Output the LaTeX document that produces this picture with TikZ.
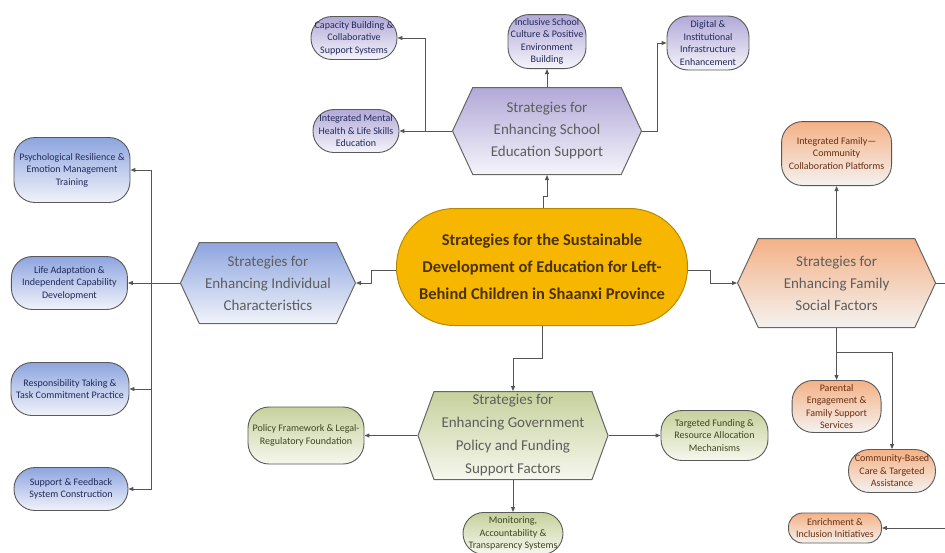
\documentclass[tikz,border=0pt]{standalone}
\usepackage{fontspec}
\setmainfont{Carlito}
\usepackage{tikz}
\usetikzlibrary{shapes.symbols, shapes.misc, arrows.meta, positioning}

\definecolor{schooltop}{HTML}{B2A9D8}
\definecolor{schoolbot}{HTML}{F5F4FA}
\definecolor{indtop}{HTML}{8DA5DF}
\definecolor{indbot}{HTML}{F1F3FA}
\definecolor{govtop}{HTML}{C6D19C}
\definecolor{govbot}{HTML}{F6F7EE}
\definecolor{famtop}{HTML}{F4B185}
\definecolor{fambot}{HTML}{F4F2F0}
\definecolor{hubfill}{HTML}{F7B600}
\definecolor{hubdraw}{HTML}{B98A00}
\definecolor{hubtext}{HTML}{4A3300}
\definecolor{hextext}{HTML}{5E5E5E}
\definecolor{navytext}{HTML}{22295A}
\definecolor{olivetext}{HTML}{3B4620}
\definecolor{browntext}{HTML}{6A2D12}
\definecolor{linecol}{HTML}{555555}

\tikzset{
  hub/.style = {
    rectangle, rounded corners=58pt,
    draw=hubdraw, fill=hubfill, line width=1pt,
    align=center, text=hubtext,
    font=\fontsize{16.5}{27}\selectfont\bfseries
  },
  hexbox/.style = {
    signal, signal to=east and west, signal pointer angle=130,
    draw=black!60, line width=1pt, inner sep=0pt,
    align=center, text=hextext,
    font=\fontsize{15}{22}\selectfont
  },
  leaf/.style = {
    rectangle, rounded corners=21pt,
    draw=black!65, line width=0.9pt, inner sep=1pt,
    align=center, font=\fontsize{10}{12.5}\selectfont
  },
  schoolc/.style = {top color=schooltop, bottom color=schoolbot},
  indc/.style    = {top color=indtop, bottom color=indbot},
  govc/.style    = {top color=govtop, bottom color=govbot},
  famc/.style    = {top color=famtop, bottom color=fambot},
  schoolleaf/.style = {leaf, schoolc, text=navytext},
  indleaf/.style    = {leaf, indc, text=navytext},
  govleaf/.style    = {leaf, govc, text=olivetext},
  famleaf/.style    = {leaf, famc, text=browntext},
  arr/.style = {-{Triangle[length=5pt, width=4pt]}, line width=1pt, linecol}
}

\begin{document}
\begin{tikzpicture}[x=1pt, y=-1pt]
\useasboundingbox (0,0) rectangle (945,552);

% centre
\node[hub, minimum width=291pt, minimum height=117pt] (centre) at (542,267)
      {Strategies for the Sustainable\\Development of Education for Left-\\Behind Children in Shaanxi Province};

% strategy hexagons
\node[hexbox, schoolc, minimum width=189pt, minimum height=87pt,
      above=33pt of centre, xshift=5pt] (school)
      {Strategies for\\Enhancing School\\Education Support};
\node[hexbox, indc, minimum width=175pt, minimum height=81pt,
      left=40pt of centre, yshift=-16pt] (indiv)
      {Strategies for\\Enhancing Individual\\Characteristics};
\node[hexbox, famc, minimum width=198pt, minimum height=89pt,
      right=49pt of centre, yshift=-16pt] (family)
      {Strategies for\\Enhancing Family\\Social Factors};
\node[hexbox, govc, signal pointer angle=140, minimum width=190pt, minimum height=88pt,
      font=\fontsize{15}{23}\selectfont,
      below=65pt of centre, xshift=-29pt] (gov)
      {Strategies for\\Enhancing Government\\Policy and Funding\\Support Factors};

% school leaves
\node[schoolleaf, minimum width=86pt, minimum height=43pt] (capacity) at (354,38)
      {Capacity Building \&\\Collaborative\\Support Systems};
\node[schoolleaf, minimum width=86pt, minimum height=43pt] (mental) at (356,131)
      {Integrated Mental\\Health \& Life Skills\\Education};
\node[schoolleaf, minimum width=78pt, minimum height=54pt, above=18pt of school] (inclusive)
      {Inclusive School\\Culture \& Positive\\Environment\\Building};
\node[schoolleaf, minimum width=82pt, minimum height=54pt] (digital) at (708,43)
      {Digital \&\\Institutional\\Infrastructure\\Enhancement};

% individual leaves
\node[indleaf, minimum width=116pt, minimum height=65pt] (psych) at (72,170)
      {Psychological Resilience \&\\Emotion Management\\Training};
\node[indleaf, minimum width=116pt, minimum height=53pt, left=52pt of indiv] (life)
      {Life Adaptation \&\\Independent Capability\\Development};
\node[indleaf, minimum width=118pt, minimum height=53pt] (respons) at (70,389)
      {Responsibility Taking \&\\Task Commitment Practice};
\node[indleaf, minimum width=114pt, minimum height=43pt] (support) at (71,489)
      {Support \& Feedback\\System Construction};

% government leaves
\node[govleaf, minimum width=116pt, minimum height=57pt, left=53pt of gov] (policy)
      {Policy Framework \& Legal-\\Regulatory Foundation};
\node[govleaf, minimum width=107pt, minimum height=50pt, right=52pt of gov] (funding)
      {Targeted Funding \&\\Resource Allocation\\Mechanisms};
\node[govleaf, minimum width=100pt, minimum height=42pt, below=32pt of gov] (monitor)
      {Monitoring,\\Accountability \&\\Transparency Systems};

% family leaves
\node[famleaf, minimum width=110pt, minimum height=64pt, above=52pt of family] (platform)
      {Integrated Family—\\Community\\Collaboration Platforms};
\node[famleaf, minimum width=89pt, minimum height=52pt, below=52pt of family] (parental)
      {Parental\\Engagement \&\\Family Support\\Services};
\node[famleaf, minimum width=87pt, minimum height=43pt] (community) at (892,471)
      {Community-Based\\Care \& Targeted\\Assistance};
\node[famleaf, minimum width=93pt, minimum height=30pt, rounded corners=14pt] (enrich) at (835,528)
      {Enrichment \&\\Inclusion Initiatives};

% centre to hexagons
\draw[arr] ([xshift=1pt]centre.north) -- ++(0,-12) -| (school.south);
\draw[arr] ([yshift=-3pt]centre.west) -- ++(-25,0) |- (indiv.east);
\draw[arr] ([yshift=-3pt]centre.east) -- ++(22,0) |- (family.west);
\draw[arr] (centre.south) -- ++(0,32) -| (gov.north);

% hexagons to leaves
\draw[arr] (school.west) -- (mental.east);
\draw[arr] (school.west) -- ++(-26,0) |- (capacity.east);
\draw[arr] (school.north) -- (inclusive.south);
\draw[arr] (school.east) -- ++(15,0) |- (digital.west);

\draw[arr] (indiv.west) -- (life.east);
\foreach \n in {psych, respons, support}
  \draw[arr] (indiv.west) -- ++(-28,0) |- (\n.east);

\draw[arr] (gov.west) -- (policy.east);
\draw[arr] (gov.east) -- (funding.west);
\draw[arr] (gov.south) -- (monitor.north);

\draw[arr] (family.north) -- (platform.south);
\draw[arr] (family.south) -- (parental.north);
\draw[arr] (family.south) -- ++(0,24) -| (community.north);
\draw[arr] (family.east) -- ++(20,0) |- (enrich.east);

\end{tikzpicture}
\end{document}
